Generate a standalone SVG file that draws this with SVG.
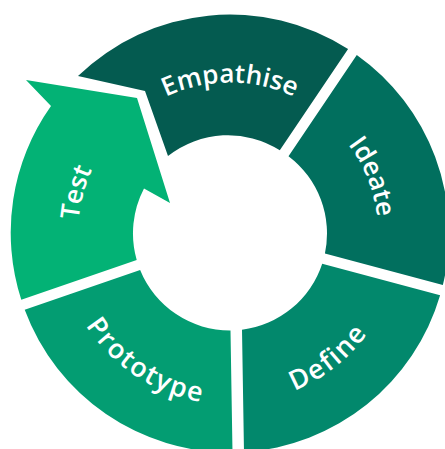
<svg xmlns="http://www.w3.org/2000/svg" width="445" height="449" viewBox="0 0 445 449">
  <style>
    .label { fill: #ffffff; font-family: "Open Sans", "Noto Sans", "DejaVu Sans", sans-serif; font-weight: 600; font-size: 26px; }
    .wide { font-size: 27px; letter-spacing: 1.6px; }
  </style>
  <defs>
    <!-- baseline arcs around the ring centre (230, 233.5) -->
    <path id="arc-empathise" d="M 99.23 158 A 151 151 0 0 1 360.77 158"/>
    <path id="arc-ideate" d="M 251.37 87.05 A 148 148 0 0 1 346.15 325.23"/>
    <path id="arc-define" d="M 167.15 391.45 A 170 170 0 0 0 398.22 208.95"/>
    <path id="arc-prototype" d="M 59.3 223.36 A 171 171 0 0 0 306.57 386.41"/>
    <path id="arc-test" d="M 122.52 340.98 A 152 152 0 0 1 190.66 86.68"/>
  </defs>

  <rect width="445" height="449" fill="#ffffff"/>

  <g id="empathise">
    <path fill="#045b50" d="M 78 76 A 219 219 0 0 1 348.08 49.06 L 279.81 150.26 A 97 97 0 0 0 168 156 L 145 91 Z"/>
    <text class="label"><textPath href="#arc-empathise" startOffset="50%" text-anchor="middle">Empathise</textPath></text>
  </g>

  <g id="ideate">
    <path fill="#016f5e" d="M 356.78 54.94 A 219 219 0 0 1 442.84 285.09 L 324.92 253.5 A 97 97 0 0 0 288.51 156.14 Z"/>
    <text class="label"><textPath href="#arc-ideate" startOffset="50%" text-anchor="middle">Ideate</textPath></text>
  </g>

  <g id="define">
    <path fill="#02886c" d="M 440.12 295.23 A 219 219 0 0 1 244 452.05 L 242 329.75 A 97 97 0 0 0 322.2 263.64 Z"/>
    <text class="label wide"><textPath href="#arc-define" startOffset="50%" text-anchor="middle">Define</textPath></text>
  </g>

  <g id="prototype">
    <path fill="#039d72" d="M 232.5 452.49 A 219 219 0 0 1 24.7 309.75 L 140.13 270 A 97 97 0 0 0 230.5 330.5 Z"/>
    <text class="label wide"><textPath href="#arc-prototype" startOffset="50%" text-anchor="middle">Prototype</textPath></text>
  </g>

  <g id="test">
    <!-- ring segment ending in a broad arrowhead that points into the next stage -->
    <path fill="#03b275" d="M 136.71 260.08 L 21.28 299.83 A 219 219 0 0 1 51 106 L 26 80 L 137 98 L 170 203 L 144 188.5 A 97 97 0 0 0 136.71 260.08 Z"/>
    <text class="label"><textPath href="#arc-test" startOffset="50%" text-anchor="middle">Test</textPath></text>
  </g>
</svg>
